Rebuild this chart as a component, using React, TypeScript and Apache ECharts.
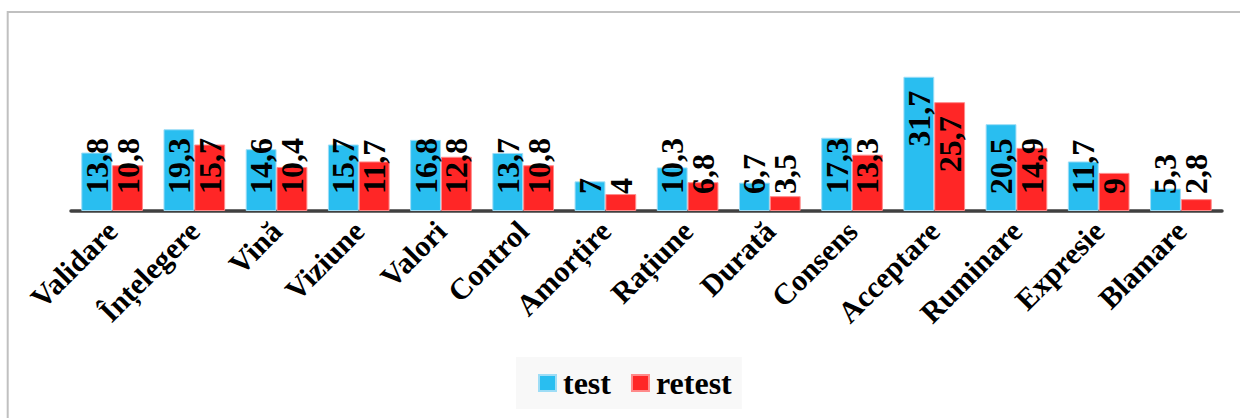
import React, { useEffect, useRef } from "react";
import * as echarts from "echarts";

const categories = [
  "Validare", "Înțelegere", "Vină", "Viziune", "Valori", "Control", "Amorțire",
  "Rațiune", "Durată", "Consens", "Acceptare", "Ruminare", "Expresie", "Blamare",
];
const testValues = [13.8, 19.3, 14.6, 15.7, 16.8, 13.7, 7, 10.3, 6.7, 17.3, 31.7, 20.5, 11.7, 5.3];
const retestValues = [10.8, 15.7, 10.4, 11.7, 12.8, 10.8, 4, 6.8, 3.5, 13.3, 25.7, 14.9, 9, 2.8];

const FONT = "'Liberation Serif', 'Times New Roman', serif";

function labelFor(v: number) {
  const top = v > 20;
  return {
    value: v,
    label: top
      ? { position: "insideTop", align: "right", distance: 14 }
      : { position: "insideBottom", align: "left", distance: 17 },
  };
}

export default function App() {
  const ref = useRef<HTMLDivElement>(null);
  useEffect(() => {
    if (!ref.current) return;
    const chart = echarts.init(ref.current, undefined, { renderer: "svg" });
    const baseLabel = {
      show: true,
      rotate: 90,
      verticalAlign: "middle",
      color: "#000",
      fontFamily: FONT,
      fontWeight: "bold",
      fontSize: 32,
      lineHeight: 32,
      formatter: (p: any) => String(p.value).replace(".", ","),
    };
    chart.setOption({
      animation: false,
      graphic: [
        {
          type: "rect",
          shape: { x: 7.7, y: 12, width: 1400, height: 600 },
          style: { fill: "none", stroke: "#c0c0c0", lineWidth: 2 },
          silent: true,
          z: -10,
        },
      ],
      grid: { left: 71, right: 18, top: 41.6, bottom: 418 - 211, containLabel: false },
      legend: {
        data: ["test", "retest"],
        left: 516,
        top: 357,
        orient: "horizontal",
        backgroundColor: "#f8f8f8",
        padding: [10, 10, 10, 22],
        itemWidth: 17,
        itemHeight: 16,
        itemGap: 20,
        icon: "rect",
        textStyle: {
          fontFamily: FONT,
          fontWeight: "bold",
          fontSize: 32,
          lineHeight: 32,
          color: "#000",
          padding: [0, 0, 0, 2],
        },
      },
      xAxis: {
        type: "category",
        data: categories,
        axisLine: { show: true, lineStyle: { color: "#404040", width: 3.5 } },
        axisTick: { show: false },
        axisLabel: {
          interval: 0,
          rotate: 45,
          margin: 15,
          color: "#000",
          fontFamily: FONT,
          fontWeight: "bold",
          fontSize: 30,
        },
      },
      yAxis: {
        type: "value",
        min: 0,
        max: 40,
        show: false,
        splitLine: { show: false },
      },
      series: [
        {
          name: "test",
          type: "bar",
          data: testValues.map(labelFor),
          barGap: "0%",
          barCategoryGap: "25%",
          itemStyle: { color: "#29BEF0", borderColor: "#9EDDF6", borderWidth: 1 },
          label: baseLabel,
        },
        {
          name: "retest",
          type: "bar",
          data: retestValues.map(labelFor),
          barGap: "0%",
          barCategoryGap: "25%",
          itemStyle: { color: "#FF2626", borderColor: "#FF8A8A", borderWidth: 1 },
          label: baseLabel,
        },
      ],
    });
    return () => chart.dispose();
  }, []);
  return (
    <div
      ref={ref}
      style={{ position: "fixed", left: 0, top: 0, width: 1240, height: 418, background: "#fff" }}
    />
  );
}
